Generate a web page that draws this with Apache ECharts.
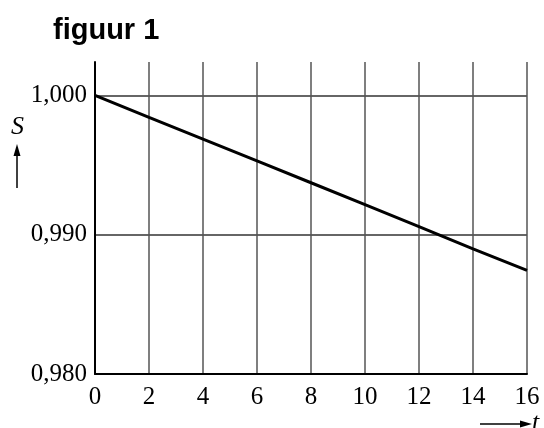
<!DOCTYPE html>
<html>
<head>
<meta charset="utf-8">
<script src="https://cdn.jsdelivr.net/npm/echarts@6/dist/echarts.min.js"></script>
<style>html,body{margin:0;padding:0;background:#fff;}#c{width:544px;height:428px;}</style>
</head>
<body>
<div id="c"></div>
<script>
var tValues = [0, 2, 4, 6, 8, 10, 12, 14, 16];
var sValues = [1.000, 0.99843, 0.99687, 0.99530, 0.99373, 0.99216, 0.99058, 0.98899, 0.98744];
var yTicks = [0.980, 0.990, 1.000];
var titleText = 'figuur 1';

var chart = echarts.init(document.getElementById('c'), null, {renderer: 'canvas'});
var serif = "'Liberation Serif', 'DejaVu Serif', serif";
chart.setOption({
  animation: false,
  backgroundColor: '#fff',
  title: {
    text: titleText, left: 48, top: 11,
    textStyle: {fontFamily: "'Liberation Sans', Arial, sans-serif", fontWeight: 'bold', fontSize: 29, color: '#000'}
  },
  grid: {left: 95, right: 17, top: 62, bottom: 54, containLabel: false},
  xAxis: {
    type: 'value', min: 0, max: 16, interval: 2,
    axisLine: {show: true, onZero: false, lineStyle: {color: '#000', width: 2}},
    axisTick: {show: false},
    axisLabel: {color: '#000', fontFamily: serif, fontSize: 25, margin: 11},
    splitLine: {show: true, lineStyle: {color: '#555', width: 1.5}}
  },
  yAxis: {
    type: 'value', min: 0.980, max: 1.0024, interval: 0.01,
    axisLine: {show: true, onZero: false, lineStyle: {color: '#000', width: 2}},
    axisTick: {show: false},
    axisLabel: {
      color: '#000', fontFamily: serif, fontSize: 25, margin: 8, showMaxLabel: false,
      formatter: function (v) {
        for (var i = 0; i < yTicks.length; i++) {
          if (Math.abs(v - yTicks[i]) < 1e-6) return yTicks[i].toFixed(3).replace('.', ',');
        }
        return '';
      }
    },
    splitLine: {show: true, showMaxLine: false, lineStyle: {color: '#333', width: 1.5}}
  },
  series: [{
    type: 'line',
    data: tValues.map(function (t, i) { return [t, sValues[i]]; }),
    showSymbol: false,
    lineStyle: {color: '#000', width: 3},
    clip: false
  }],
  graphic: [
    {type: 'text', left: 11, top: 114, style: {text: 'S', font: "italic 26px 'Liberation Serif', serif", fill: '#000'}},
    {type: 'line', shape: {x1: 17, y1: 188, x2: 17, y2: 152}, style: {stroke: '#000', lineWidth: 1.5}},
    {type: 'polygon', shape: {points: [[17, 144], [13.5, 156], [20.5, 156]]}, style: {fill: '#000'}},
    {type: 'line', shape: {x1: 480, y1: 424, x2: 524, y2: 424}, style: {stroke: '#000', lineWidth: 1.5}},
    {type: 'polygon', shape: {points: [[532, 424], [520, 420.5], [520, 427.5]]}, style: {fill: '#000'}},
    {type: 'text', left: 532, top: 410, style: {text: 't', font: "italic 26px 'Liberation Serif', serif", fill: '#000'}}
  ]
});
</script>
</body>
</html>
